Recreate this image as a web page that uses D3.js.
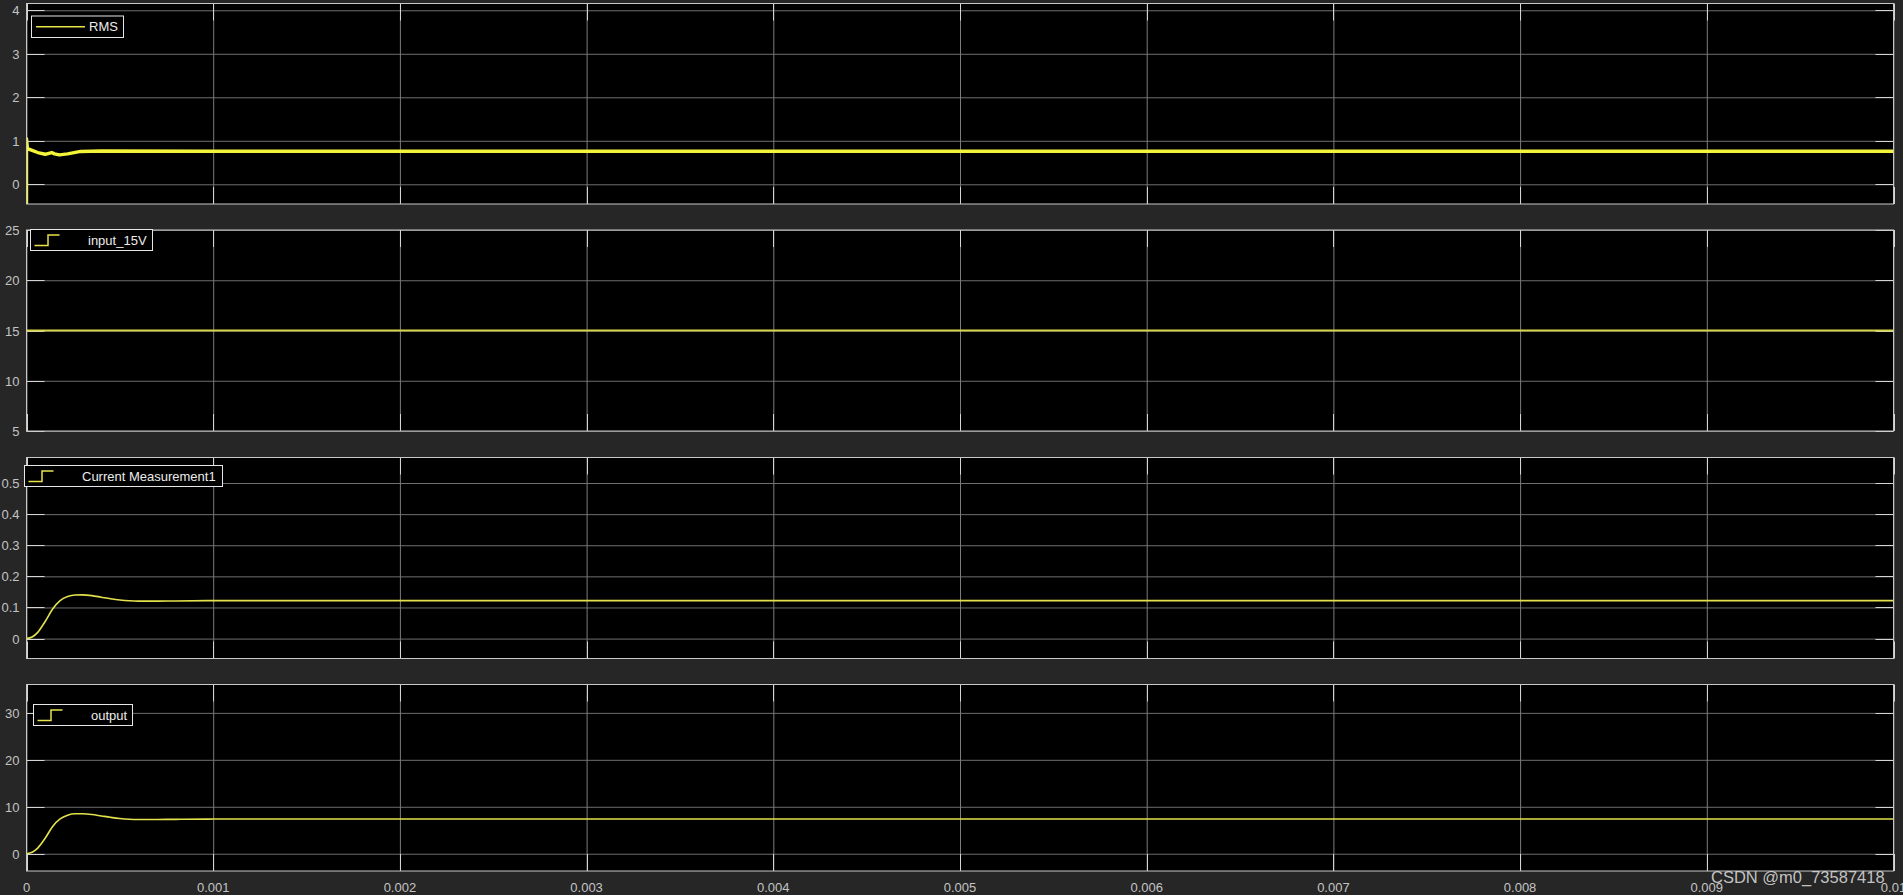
<!DOCTYPE html>
<html>
<head>
<meta charset="utf-8">
<script src="https://cdn.jsdelivr.net/npm/d3@7"></script>
<style>
  html, body { margin: 0; padding: 0; background: #262626; overflow: hidden; }
  svg { display: block; }
  text { font-family: "Liberation Sans", Arial, sans-serif; }
</style>
</head>
<body>
<svg id="chart" width="1903" height="895"></svg>
<script>
// ---------- data ----------
const xTicks = [0, 0.001, 0.002, 0.003, 0.004, 0.005, 0.006, 0.007, 0.008, 0.009, 0.01];
const xTickLabels = ["0", "0.001", "0.002", "0.003", "0.004", "0.005", "0.006", "0.007", "0.008", "0.009", "0.01"];

const rmsTime  = [0, 0, 0.000005, 0.00003, 0.00006, 0.0001, 0.000135, 0.00015, 0.000176, 0.00022, 0.00029, 0.0004, 0.001, 0.01];
const rmsValue = [-0.45, 1.05, 0.82, 0.78, 0.73, 0.69, 0.73, 0.70, 0.675, 0.70, 0.755, 0.765, 0.76, 0.76];

const inputTime  = [0, 0.01];
const inputValue = [15, 15];

const stepTime = [0, 0.00003, 0.00006, 0.0001, 0.00014, 0.00018, 0.00022, 0.00026, 0.0003, 0.00035, 0.0004, 0.00045, 0.0005, 0.00055, 0.0006, 0.0007, 0.0008, 0.001, 0.01];
const currentValue = [0, 0.005, 0.02, 0.055, 0.095, 0.122, 0.135, 0.140, 0.1405, 0.138, 0.133, 0.128, 0.124, 0.1215, 0.1205, 0.1205, 0.121, 0.122, 0.122];
const outputValue  = [0, 0.3, 1.2, 3.3, 5.8, 7.4, 8.2, 8.5, 8.5, 8.35, 8.05, 7.75, 7.5, 7.35, 7.3, 7.3, 7.32, 7.38, 7.38];

const panelNames = ["RMS", "input_15V", "Current Measurement1", "output"];
const yTicks1 = [0, 1, 2, 3, 4];
const yTicks2 = [5, 10, 15, 20, 25];
const yTicks3 = [0, 0.1, 0.2, 0.3, 0.4, 0.5];
const yTicks4 = [0, 10, 20, 30];

// ---------- layout ----------
const left = 26.5, right = 1893.5;
const panels = [
  { name: panelNames[0], top: 3.5,   bottom: 204,   domain: [-0.453, 4.156], ticks: yTicks1, t: rmsTime, v: rmsValue, width: 3.4, color: "#f4f43a", curve: d3.curveLinear,
    legend: { x0: 31.5, x1: 123.5, y0: 16, y1: 37.5, icon: "line", textX: 89 } },
  { name: panelNames[1], top: 230,   bottom: 431,   domain: [5, 25],         ticks: yTicks2, t: inputTime, v: inputValue, width: 2, color: "#d8d64a", curve: d3.curveLinear,
    legend: { x0: 30.5, x1: 152.5, y0: 229.5, y1: 250.5, icon: "step", iconX: 34.5, textX: 88 } },
  { name: panelNames[2], top: 457.5, bottom: 658.5, domain: [-0.064, 0.582], ticks: yTicks3, t: stepTime, v: currentValue, width: 1.6, color: "#e4e24c", curve: d3.curveMonotoneX,
    legend: { x0: 24.5, x1: 222.5, y0: 465.5, y1: 486.5, icon: "step", iconX: 28.5, textX: 82 } },
  { name: panelNames[3], top: 684.5, bottom: 871,   domain: [-3.68, 36.04],  ticks: yTicks4, t: stepTime, v: outputValue, width: 1.6, color: "#e4e24c", curve: d3.curveMonotoneX,
    legend: { x0: 33.5, x1: 132.5, y0: 704.5, y1: 725.5, icon: "step", iconX: 37.5, textX: 91 } }
];

const svg = d3.select("#chart");
const x = d3.scaleLinear().domain([0, 0.01]).range([left, right]);

const gridColor = "#6e6e6e";
const tickColor = "#d4d4d4";
const boxColor = "#c8c8c8";
const labelColor = "#c4c4c4";

panels.forEach((p, i) => {
  const y = d3.scaleLinear().domain(p.domain).range([p.bottom, p.top]);
  const g = svg.append("g");
  const clipId = "clip" + i;
  svg.append("clipPath").attr("id", clipId)
    .append("rect").attr("x", left).attr("y", p.top).attr("width", right - left).attr("height", p.bottom - p.top);

  // plot background
  g.append("rect").attr("x", left).attr("y", p.top).attr("width", right - left).attr("height", p.bottom - p.top).attr("fill", "#000");

  // grid via axes
  const yGrid = g.append("g").attr("transform", `translate(${left},0)`)
    .call(d3.axisLeft(y).tickValues(p.ticks).tickSize(-(right - left)).tickFormat(""));
  yGrid.select(".domain").remove();
  yGrid.selectAll("line").attr("stroke", gridColor).attr("stroke-width", 1);

  const xGrid = g.append("g").attr("transform", `translate(0,${p.bottom})`)
    .call(d3.axisBottom(x).tickValues(xTicks).tickSize(-(p.bottom - p.top)).tickFormat(""));
  xGrid.select(".domain").remove();
  xGrid.selectAll("line").attr("stroke", "#7c7c7c").attr("stroke-width", 1);

  // inner ticks (left/right/top/bottom)
  const tl = 18;
  const ticksG = g.append("g").attr("stroke", tickColor).attr("stroke-width", 1);
  p.ticks.forEach(v => {
    const yy = Math.round(y(v)) + 0.5;
    ticksG.append("line").attr("x1", left).attr("x2", left + tl).attr("y1", yy).attr("y2", yy);
    ticksG.append("line").attr("x1", right - tl).attr("x2", right).attr("y1", yy).attr("y2", yy);
  });
  xTicks.forEach(v => {
    const xx = Math.round(x(v)) + 0.5;
    ticksG.append("line").attr("x1", xx).attr("x2", xx).attr("y1", p.top).attr("y2", p.top + 17);
    ticksG.append("line").attr("x1", xx).attr("x2", xx).attr("y1", p.bottom - 17).attr("y2", p.bottom);
  });

  // data line
  const pts = p.t.map((t, k) => [t, p.v[k]]);
  const line = d3.line().x(d => x(d[0])).y(d => y(d[1])).curve(p.curve);
  g.append("path").datum(pts).attr("clip-path", `url(#${clipId})`)
    .attr("d", line).attr("fill", "none").attr("stroke", p.color)
    .attr("stroke-width", p.width).attr("stroke-linejoin", "round");

  // box
  g.append("rect").attr("x", left).attr("y", p.top).attr("width", right - left).attr("height", p.bottom - p.top)
    .attr("fill", "none").attr("stroke", boxColor).attr("stroke-width", 1);

  // y tick labels
  p.ticks.forEach(v => {
    g.append("text").attr("x", 19.5).attr("y", y(v) + 5)
      .attr("text-anchor", "end").attr("font-size", 13).attr("fill", labelColor)
      .text(d3.format("~g")(v));
  });

  // legend
  const L = p.legend;
  const lg = g.append("g");
  lg.append("rect").attr("x", L.x0).attr("y", L.y0).attr("width", L.x1 - L.x0).attr("height", L.y1 - L.y0)
    .attr("fill", "#000").attr("stroke", "#e6e6e6").attr("stroke-width", 1);
  const cy = (L.y0 + L.y1) / 2;
  if (L.icon === "line") {
    lg.append("line").attr("x1", L.x0 + 4.5).attr("x2", L.x0 + 53.5).attr("y1", cy).attr("y2", cy)
      .attr("stroke", "#e6e44a").attr("stroke-width", 1.5);
  } else {
    const ix = L.iconX;
    lg.append("path")
      .attr("d", `M${ix},${cy + 5.5}H${ix + 13.5}V${cy - 5}H${ix + 25}`)
      .attr("fill", "none").attr("stroke", "#e6e44a").attr("stroke-width", 1.5);
  }
  lg.append("text").attr("x", L.textX).attr("y", cy + 4.7)
    .attr("font-size", 13).attr("fill", "#ececec").text(p.name);

  // x tick labels on bottom panel
  if (i === panels.length - 1) {
    xTicks.forEach((v, k) => {
      g.append("text").attr("x", x(v)).attr("y", 891.5)
        .attr("text-anchor", "middle").attr("font-size", 13).attr("fill", labelColor)
        .text(xTickLabels[k]);
    });
  }
});

// watermark
svg.append("text").attr("x", 1711).attr("y", 882.5)
  .attr("font-size", 16.5).attr("fill", "#d8d8d8").attr("fill-opacity", 0.9)
  .text("CSDN @m0_73587418");
</script>
</body>
</html>
